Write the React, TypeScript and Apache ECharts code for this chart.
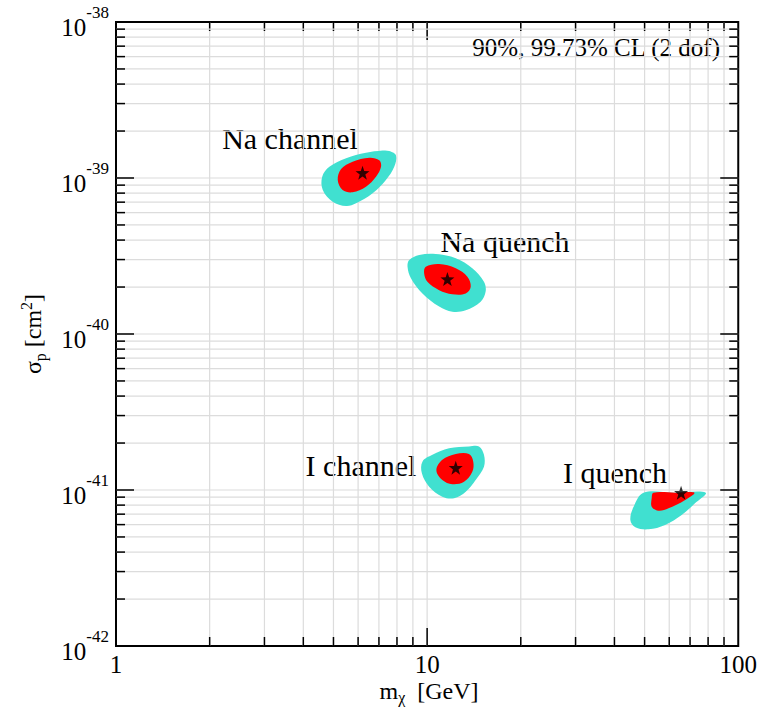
import React, { useEffect, useRef } from "react";
import * as echarts from "echarts";

// Axis ranges
const MASS_MIN = 1;
const MASS_MAX = 100;
const SIGMA_MIN = 1e-42;
const SIGMA_MAX = 1e-38;
// cross sections are handed to the log axis in units of 1e-40 cm^2
const SIGMA_UNIT = 1e-40;
const SIGMA_UNIT_EXP = -40;

// grid / tick positions
const massDecades = [1, 10];
const sigmaDecades = [1e-42, 1e-41, 1e-40, 1e-39];
const minorMantissas = [2, 3, 4, 5, 6, 7, 8, 9];

// allowed regions, [m_chi (GeV), sigma_p (cm^2)]
const naChannel99: number[][] = [
  [7.55, 1.49e-39], [7.94, 1.4e-39], [7.84, 1.18e-39], [7.37, 9.71e-40], [6.68, 7.98e-40],
  [5.91, 6.88e-40], [5.49, 6.61e-40], [4.97, 7.05e-40], [4.62, 8.38e-40], [4.6, 1.02e-39],
  [4.85, 1.18e-39], [5.49, 1.34e-39], [6.36, 1.45e-39], [7.19, 1.5e-39],
];
const naChannel90: number[][] = [
  [7.02, 1.3e-39], [7.11, 1.18e-39], [6.85, 1.02e-39], [6.36, 8.8e-40], [5.76, 8.1e-40],
  [5.35, 8.38e-40], [5.16, 9.71e-40], [5.29, 1.14e-39], [5.76, 1.27e-39], [6.52, 1.35e-39],
];
const naQuench99: number[][] = [
  [8.76, 2.98e-40], [9.43, 3.21e-40], [10.66, 3.26e-40], [12.36, 3.06e-40], [13.97, 2.64e-40],
  [15.23, 2.16e-40], [15.42, 1.87e-40], [14.86, 1.61e-40], [13.31, 1.42e-40], [12.05, 1.39e-40],
  [10.93, 1.5e-40], [9.66, 1.82e-40], [8.87, 2.28e-40], [8.65, 2.7e-40],
];
const naQuench90: number[][] = [
  [9.9, 2.7e-40], [10.93, 2.81e-40], [12.36, 2.64e-40], [13.47, 2.33e-40], [13.81, 2.01e-40],
  [13.31, 1.82e-40], [12.05, 1.8e-40], [10.93, 1.91e-40], [10.02, 2.16e-40], [9.78, 2.45e-40],
];
const iChannel99: number[][] = [
  [10.4, 1.68e-41], [11.76, 1.85e-41], [13.63, 1.9e-41], [14.68, 1.9e-41], [15.23, 1.68e-41],
  [15.23, 1.41e-41], [14.32, 1.16e-41], [13.31, 9.75e-42], [12.21, 8.85e-42], [11.19, 9.06e-42],
  [10.15, 1.05e-41], [9.62, 1.28e-41], [9.66, 1.52e-41],
];
const iChannel90: number[][] = [
  [11.19, 1.56e-41], [12.36, 1.7e-41], [13.63, 1.7e-41], [14.07, 1.52e-41], [13.97, 1.31e-41],
  [13.14, 1.13e-41], [12.05, 1.09e-41], [11.19, 1.16e-41], [10.71, 1.34e-41],
];
const iQuench99: number[][] = [
  [49.6, 9.61e-42], [62.0, 9.61e-42], [78.6, 9.61e-42], [72.6, 8.22e-42], [65.8, 6.91e-42],
  [58.2, 5.97e-42], [51.5, 5.6e-42], [46.7, 5.77e-42], [45.0, 6.42e-42], [46.1, 7.81e-42],
];
const iQuench90: number[][] = [
  [53.4, 9.61e-42], [63.0, 9.61e-42], [72.3, 9.61e-42], [67.5, 8.63e-42], [59.7, 7.63e-42],
  [55.4, 7.37e-42], [52.7, 7.81e-42], [52.7, 8.85e-42],
];

// best-fit points
const bestFits: number[][] = [
  [6.2, 1.08e-39],
  [11.62, 2.25e-40],
  [12.36, 1.39e-41],
  [65.5, 9.61e-42],
];

const regionLabels = ["Na channel", "Na quench", "I channel", "I quench"];
const clNote = "90%, 99.73% CL (2 dof)";

const FONT = "'Liberation Serif', 'Times New Roman', serif";
const CYAN = "#40e0d0";
const RED = "#ff0000";
const GRID_GRAY = "#dcdcdc";

const STAR =
  "path://M0,-10 L2.35,-3.24 L9.51,-3.09 L3.8,1.24 L5.88,8.09 L0,4 L-5.88,8.09 L-3.8,1.24 L-9.51,-3.09 L-2.35,-3.24 Z";

const toPlot = (p: number[]) => [p[0], p[1] / SIGMA_UNIT];

const massGrid: number[] = [];
massDecades.forEach((d) => {
  if (d > MASS_MIN) massGrid.push(d);
  minorMantissas.forEach((k) => massGrid.push(k * d));
});
const sigmaGrid: number[] = [];
sigmaDecades.forEach((d) => {
  if (d > SIGMA_MIN) sigmaGrid.push(d / SIGMA_UNIT);
  minorMantissas.forEach((k) => sigmaGrid.push((k * d) / SIGMA_UNIT));
});

const isDecade = (v: number) => Math.abs(Math.log10(v) - Math.round(Math.log10(v))) < 1e-6;

function regionSeries(name: string, pts: number[][], color: string, z: number) {
  const plotPts = pts.map(toPlot);
  return {
    type: "custom",
    name,
    coordinateSystem: "cartesian2d",
    z,
    silent: true,
    data: plotPts,
    renderItem: (params: any, api: any) => {
      if (params.dataIndex !== 0) return null;
      const points = plotPts.map((p) => api.coord(p));
      return {
        type: "polygon",
        shape: { points, smooth: 0.35 },
        style: { fill: color },
      };
    },
  };
}

const labelText = (text: string, x: number, y: number, size: number, align = "center") => ({
  type: "text",
  x,
  y,
  style: { text, font: `${size}px ${FONT}`, fill: "#000", align, verticalAlign: "middle" },
});

export default function App() {
  const ref = useRef<HTMLDivElement>(null);

  useEffect(() => {
    if (!ref.current) return;
    const chart = echarts.init(ref.current, undefined, { renderer: "svg" });
    const yLo = SIGMA_MIN / SIGMA_UNIT;
    const yHi = SIGMA_MAX / SIGMA_UNIT;

    const option: any = {
      animation: false,
      backgroundColor: "#ffffff",
      grid: {
        left: 116,
        right: 19,
        top: 22,
        bottom: 64,
        show: true,
        borderColor: "#000",
        borderWidth: 2,
        backgroundColor: "transparent",
      },
      xAxis: {
        type: "log",
        logBase: 10,
        min: MASS_MIN,
        max: MASS_MAX,
        axisLine: { show: false },
        axisTick: { show: false },
        splitLine: { show: false },
        axisLabel: {
          color: "#000",
          fontFamily: FONT,
          fontSize: 25,
          margin: 8,
          lineHeight: 21,
          formatter: (v: number) => String(Math.round(v)),
        },
      },
      yAxis: {
        type: "log",
        logBase: 10,
        min: yLo,
        max: yHi,
        axisLine: { show: false },
        axisTick: { show: false },
        splitLine: { show: false },
        axisLabel: {
          margin: 7,
          formatter: (v: number) => `{b|10}{s|${Math.round(Math.log10(v)) + SIGMA_UNIT_EXP}}`,
          rich: {
            b: { fontFamily: FONT, fontSize: 25, color: "#000", lineHeight: 36, verticalAlign: "bottom" },
            s: { fontFamily: FONT, fontSize: 17, color: "#000", lineHeight: 17, verticalAlign: "top" },
          },
        },
      },
      series: [
        // vertical grid lines with ticks on bottom and top
        {
          type: "custom",
          coordinateSystem: "cartesian2d",
          z: 1,
          silent: true,
          data: massGrid.map((m) => [m, yLo]),
          renderItem: (params: any, api: any) => {
            const m = massGrid[params.dataIndex];
            const b = api.coord([m, yLo]);
            const t = api.coord([m, yHi]);
            const len = isDecade(m) ? 18 : 9;
            return {
              type: "group",
              children: [
                { type: "line", shape: { x1: b[0], y1: b[1], x2: t[0], y2: t[1] }, style: { stroke: GRID_GRAY, lineWidth: 1.2 } },
                { type: "line", shape: { x1: b[0], y1: b[1], x2: b[0], y2: b[1] - len }, style: { stroke: "#000", lineWidth: 1.5 } },
                { type: "line", shape: { x1: t[0], y1: t[1], x2: t[0], y2: t[1] + len }, style: { stroke: "#000", lineWidth: 1.5 } },
              ],
            };
          },
        },
        // horizontal grid lines with ticks on left and right
        {
          type: "custom",
          coordinateSystem: "cartesian2d",
          z: 1,
          silent: true,
          data: sigmaGrid.map((s) => [MASS_MIN, s]),
          renderItem: (params: any, api: any) => {
            const s = sigmaGrid[params.dataIndex];
            const l = api.coord([MASS_MIN, s]);
            const r = api.coord([MASS_MAX, s]);
            const len = isDecade(s) ? 18 : 9;
            return {
              type: "group",
              children: [
                { type: "line", shape: { x1: l[0], y1: l[1], x2: r[0], y2: r[1] }, style: { stroke: GRID_GRAY, lineWidth: 1.2 } },
                { type: "line", shape: { x1: l[0], y1: l[1], x2: l[0] + len, y2: l[1] }, style: { stroke: "#000", lineWidth: 1.5 } },
                { type: "line", shape: { x1: r[0], y1: r[1], x2: r[0] - len, y2: r[1] }, style: { stroke: "#000", lineWidth: 1.5 } },
              ],
            };
          },
        },
        regionSeries("Na channel 99.73%", naChannel99, CYAN, 3),
        regionSeries("Na quench 99.73%", naQuench99, CYAN, 3),
        regionSeries("I channel 99.73%", iChannel99, CYAN, 3),
        regionSeries("I quench 99.73%", iQuench99, CYAN, 3),
        regionSeries("Na channel 90%", naChannel90, RED, 4),
        regionSeries("Na quench 90%", naQuench90, RED, 4),
        regionSeries("I channel 90%", iChannel90, RED, 4),
        regionSeries("I quench 90%", iQuench90, RED, 4),
        {
          type: "scatter",
          name: "best fit",
          z: 5,
          silent: true,
          symbol: STAR,
          symbolSize: 14,
          itemStyle: { color: "#000" },
          data: bestFits.map(toPlot),
        },
      ],
      graphic: [
        labelText(regionLabels[0], 290, 138, 30),
        labelText(regionLabels[1], 505, 241, 30),
        labelText(regionLabels[2], 361, 465, 30),
        labelText(regionLabels[3], 615, 472, 30),
        labelText(clNote, 720, 47, 25, "right"),
        {
          type: "text",
          x: 429,
          y: 692,
          style: {
            text: "{m|m}{sub|χ}{m|  [GeV]}",
            align: "center",
            verticalAlign: "middle",
            rich: {
              m: { font: `24px ${FONT}`, fill: "#000", lineHeight: 20, verticalAlign: "top" },
              sub: { font: `16px ${FONT}`, fill: "#000", lineHeight: 27, verticalAlign: "bottom" },
            },
          },
        },
        {
          type: "text",
          x: 33,
          y: 334,
          rotation: Math.PI / 2,
          style: {
            text: "{m|σ}{sub|p}{m| [cm}{sup|2}{m|]}",
            align: "center",
            verticalAlign: "middle",
            rich: {
              m: { font: `24px ${FONT}`, fill: "#000", lineHeight: 30, verticalAlign: "middle" },
              sub: { font: `16px ${FONT}`, fill: "#000", lineHeight: 16, verticalAlign: "bottom" },
              sup: { font: `16px ${FONT}`, fill: "#000", lineHeight: 16, verticalAlign: "top" },
            },
          },
        },
      ],
    };

    chart.setOption(option);
    return () => chart.dispose();
  }, []);

  return (
    <div
      ref={ref}
      style={{ position: "absolute", left: 0, top: 0, width: 760, height: 710, background: "#fff" }}
    />
  );
}
